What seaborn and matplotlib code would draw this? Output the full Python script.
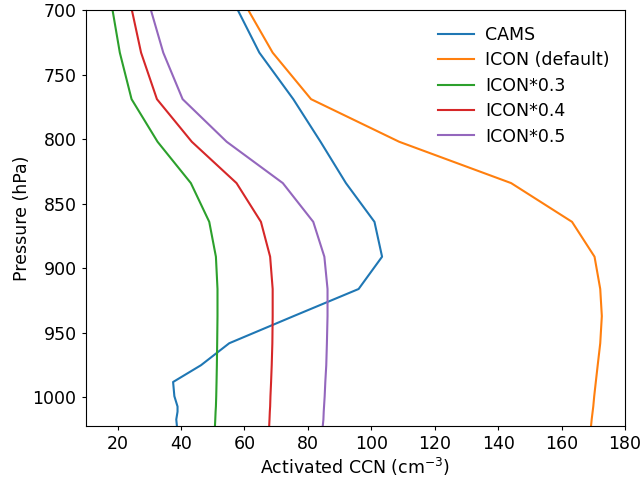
import numpy as np
import pandas as pd
import matplotlib
matplotlib.use("Agg")
import matplotlib.pyplot as plt
import seaborn as sns

pressure = [700, 733, 769, 802, 834, 864, 891, 916, 937, 958, 975, 988, 999, 1007, 1011, 1017, 1022]

cams = [57.9, 64.7, 75.4, 84.0, 92.0, 101.0, 103.4, 96.0, 75.5, 55.2, 46.3, 37.5, 37.9, 38.9, 38.9, 38.5, 38.7]
icon_default = [61.2, 68.9, 81.0, 108.8, 144.1, 163.3, 170.4, 172.2, 172.7, 172.2, 171.4, 170.8, 170.3, 170.0, 169.8, 169.5, 169.3]
icon_03 = [18.4, 20.7, 24.4, 32.6, 43.1, 48.9, 51.0, 51.5, 51.5, 51.4, 51.3, 51.2, 51.1, 51.0, 50.9, 50.8, 50.7]
icon_04 = [24.5, 27.4, 32.4, 43.4, 57.5, 65.2, 68.1, 68.9, 68.9, 68.8, 68.6, 68.4, 68.2, 68.1, 68.0, 67.9, 67.8]
icon_05 = [30.5, 34.4, 40.5, 54.4, 72.1, 81.7, 85.2, 86.2, 86.2, 86.0, 85.8, 85.5, 85.3, 85.1, 85.0, 84.9, 84.7]

labels = ["CAMS", "ICON (default)", "ICON*0.3", "ICON*0.4", "ICON*0.5"]
series = [cams, icon_default, icon_03, icon_04, icon_05]

rows = []
for lab, vals in zip(labels, series):
    for p, v in zip(pressure, vals):
        rows.append({"label": lab, "p": p, "ccn": v})
df = pd.DataFrame(rows)

plt.rcParams["font.size"] = 12.5
plt.rcParams["xtick.major.size"] = 3.2
plt.rcParams["ytick.major.size"] = 3.2
fig, ax = plt.subplots(figsize=(6.41, 4.78), dpi=100)
fig.subplots_adjust(left=0.134, right=0.975, top=0.979, bottom=0.109)

sns.lineplot(data=df, x="ccn", y="p", hue="label", hue_order=labels,
             palette=sns.color_palette("tab10", 5), orient="y", sort=True,
             estimator=None, linewidth=1.5, ax=ax)

ax.set_ylim(1022, 700)
ax.set_xlim(10, 180)
ax.set_xticks(np.arange(20, 181, 20))
ax.set_yticks([700, 750, 800, 850, 900, 950, 1000])
ax.set_xlabel("Activated CCN (cm$^{-3}$)", labelpad=2)
ax.set_ylabel("Pressure (hPa)", labelpad=1.5)
ax.legend(frameon=False, loc="upper right", fontsize=12.5, title=None,
          labelspacing=0.43, handlelength=2.1, handletextpad=0.6)

fig.savefig("out.png", dpi=100)
